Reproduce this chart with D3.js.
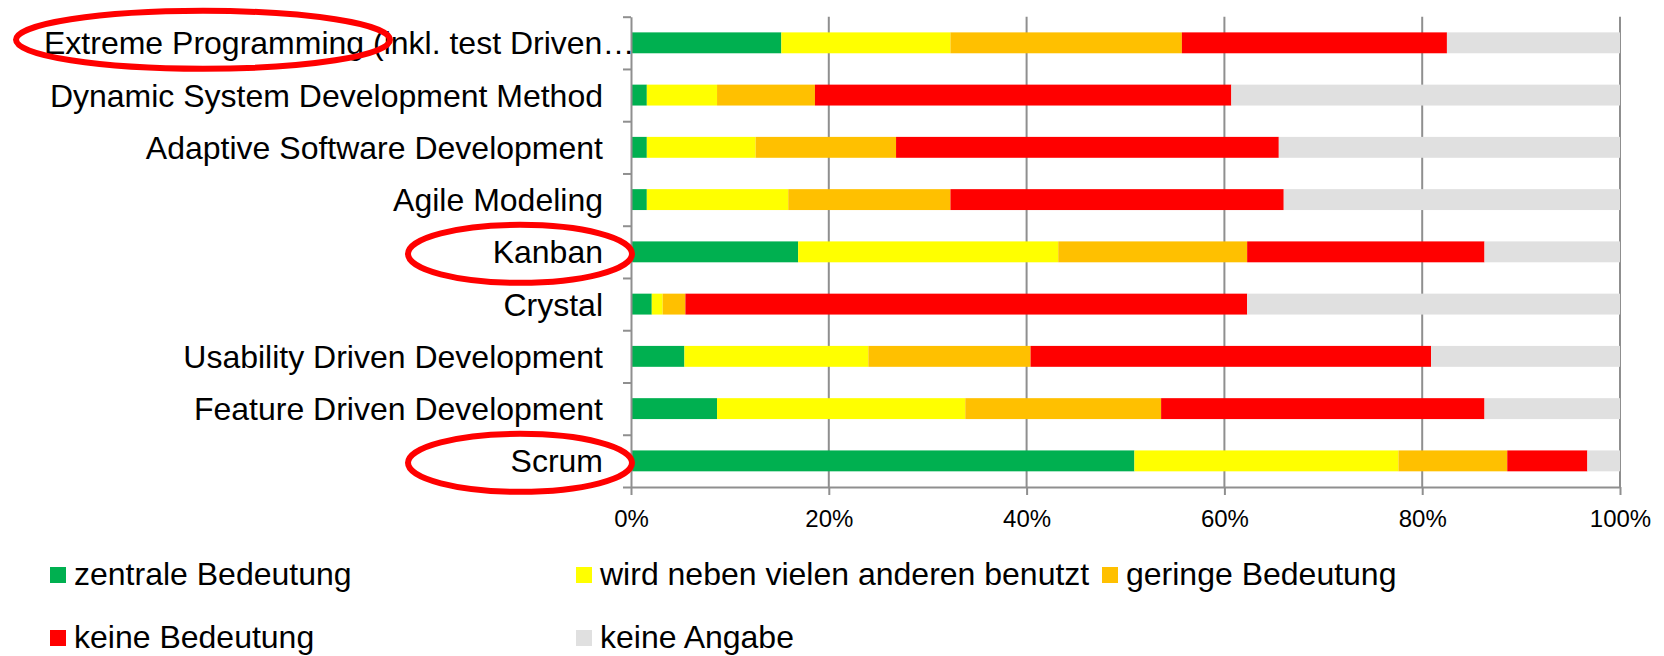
<!DOCTYPE html>
<html>
<head>
<meta charset="utf-8">
<script src="https://cdn.jsdelivr.net/npm/d3@7"></script>
<style>
  body { margin: 0; background: #fff; }
  svg { display: block; font-family: "Liberation Sans", Arial, sans-serif; }
  .label { font-size: 32px; fill: #000; }
  .tick text { font-size: 24px; fill: #000; font-family: "Liberation Sans", Arial, sans-serif; }
</style>
</head>
<body>
<svg width="1664" height="656"></svg>
<script>
// categories top to bottom
const categories = [
    "Extreme Programming (inkl. test Driven…",
    "Dynamic System Development Method",
    "Adaptive Software Development",
    "Agile Modeling",
    "Kanban",
    "Crystal",
    "Usability Driven Development",
    "Feature Driven Development",
    "Scrum"
];

// share in percent
const zentrale    = [15.2, 1.6, 1.6, 1.6, 16.9, 2.1, 5.4, 8.7, 50.9];
const nebenAndere = [17.1, 7.1, 11.0, 14.3, 26.3, 1.1, 18.6, 25.1, 26.7];
const gering      = [23.4, 9.9, 14.2, 16.4, 19.1, 2.3, 16.4, 19.8, 11.0];
const keine       = [26.8, 42.1, 38.7, 33.7, 24.0, 56.8, 40.5, 32.7, 8.1];
const keineAngabe = [17.5, 39.3, 34.5, 34.0, 13.7, 37.7, 19.1, 13.7, 3.3];

const seriesNames = [
    "zentrale Bedeutung",
    "wird neben vielen anderen benutzt",
    "geringe Bedeutung",
    "keine Bedeutung",
    "keine Angabe"
];
const seriesColors = ["#00B050", "#FFFF00", "#FFC000", "#FF0000", "#E0E0E0"];
const xTicks = [0, 0.2, 0.4, 0.6, 0.8, 1];

// labels circled by hand in the original
const circled = ["Extreme Programming (inkl. test Driven…", "Kanban", "Scrum"];

const svg = d3.select("svg");

const plotLeft = 631, plotRight = 1620, plotTop = 16.7, plotBottom = 487;

const rows = categories.map(function(c, i) {
    return { cat: c, s0: zentrale[i], s1: nebenAndere[i], s2: gering[i], s3: keine[i], s4: keineAngabe[i] };
});
const keys = ["s0", "s1", "s2", "s3", "s4"];

const stacked = d3.stack().keys(keys).offset(d3.stackOffsetExpand)(rows);

const x = d3.scaleLinear().domain([0, 1]).range([plotLeft, plotRight]);
const y = d3.scaleBand().domain(categories).range([plotTop, plotBottom])
    .paddingInner(0.6).paddingOuter(0.3);
const yEdges = d3.scaleLinear().domain([0, categories.length]).range([plotTop, plotBottom]);

// vertical gridlines
svg.append("g")
    .selectAll("line")
    .data(xTicks.slice(1))
    .enter().append("line")
    .attr("x1", function(d) { return x(d); })
    .attr("x2", function(d) { return x(d); })
    .attr("y1", plotTop)
    .attr("y2", plotBottom)
    .attr("stroke", "#8f8f8f")
    .attr("stroke-width", 2);

// bars
svg.append("g")
    .selectAll("g")
    .data(stacked)
    .enter().append("g")
    .attr("fill", function(d, i) { return seriesColors[i]; })
    .selectAll("rect")
    .data(function(d) { return d; })
    .enter().append("rect")
    .attr("x", function(d) { return x(d[0]); })
    .attr("width", function(d) { return x(d[1]) - x(d[0]); })
    .attr("y", function(d) { return y(d.data.cat); })
    .attr("height", y.bandwidth());

// bottom axis
const xAxis = svg.append("g")
    .attr("transform", "translate(0," + plotBottom + ")")
    .call(d3.axisBottom(x)
        .tickValues(xTicks)
        .tickFormat(d3.format(".0%"))
        .tickSize(8)
        .tickSizeOuter(0)
        .tickPadding(15));

// left axis with ticks between categories
const yAxis = svg.append("g")
    .attr("transform", "translate(" + plotLeft + ",0)")
    .call(d3.axisLeft(yEdges)
        .tickValues(d3.range(categories.length + 1))
        .tickFormat("")
        .tickSize(8)
        .tickSizeOuter(0));

[xAxis, yAxis].forEach(function(a) {
    a.select(".domain").attr("stroke", "#8f8f8f").attr("stroke-width", 2);
    a.selectAll(".tick line").attr("stroke", "#8f8f8f").attr("stroke-width", 2);
});

// category labels (a truncated label starts at the left margin like Excel does)
svg.append("g")
    .selectAll("text")
    .data(categories)
    .enter().append("text")
    .attr("class", "label")
    .attr("x", function(d) { return d.slice(-1) === "…" ? 44 : 603; })
    .attr("y", function(d) { return y(d) + y.bandwidth() / 2; })
    .attr("dy", "0.36em")
    .attr("text-anchor", function(d) { return d.slice(-1) === "…" ? "start" : "end"; })
    .text(function(d) { return d; });

// red hand-drawn ellipses
svg.append("g")
    .selectAll("ellipse")
    .data(circled)
    .enter().append("ellipse")
    .attr("cx", function(d) { return d.slice(-1) === "…" ? 203 : 520; })
    .attr("rx", function(d) { return d.slice(-1) === "…" ? 187 : 112; })
    .attr("cy", function(d) { return y(d) + y.bandwidth() / 2 + (d.slice(-1) === "…" ? -3 : 2); })
    .attr("ry", 29)
    .attr("fill", "none")
    .attr("stroke", "#FF0000")
    .attr("stroke-width", 6);

// legend, three items per row
const legend = svg.append("g")
    .selectAll("g")
    .data(seriesNames)
    .enter().append("g")
    .attr("transform", function(d, i) {
        return "translate(" + (50 + (i % 3) * 526) + "," + (585 + Math.floor(i / 3) * 63) + ")";
    });

legend.append("rect")
    .attr("x", 0)
    .attr("y", -18)
    .attr("width", 16)
    .attr("height", 16)
    .attr("fill", function(d, i) { return seriesColors[i]; });

legend.append("text")
    .attr("class", "label")
    .attr("x", 24)
    .attr("y", 0)
    .text(function(d) { return d; });
</script>
</body>
</html>
